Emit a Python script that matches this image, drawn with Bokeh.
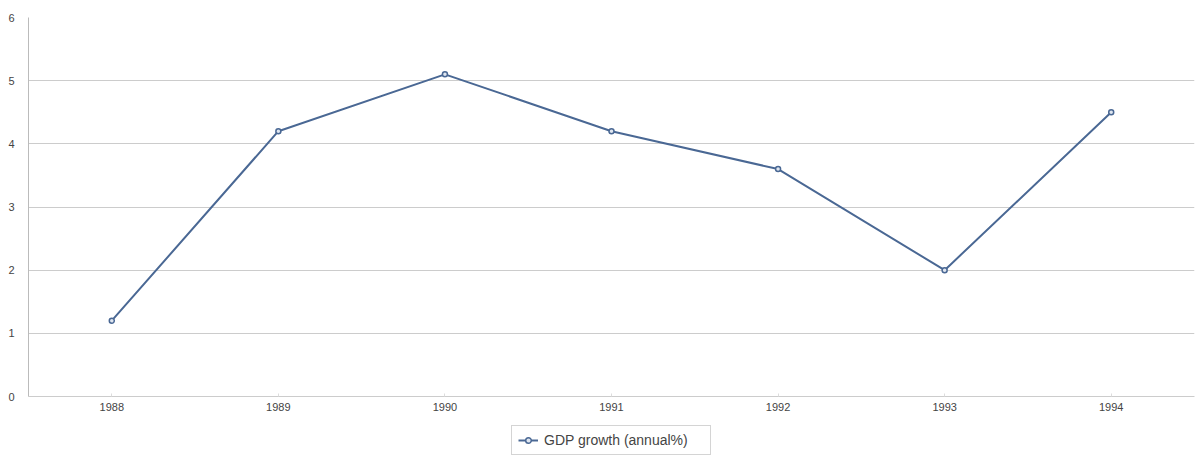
from bokeh.plotting import figure
from bokeh.layouts import column
from bokeh.models import FactorRange, Range1d, Legend, LegendItem, FixedTicker
from bokeh.embed import file_html
from bokeh.resources import INLINE

years = ["1988", "1989", "1990", "1991", "1992", "1993", "1994"]
gdp_growth = [1.2, 4.2, 5.1, 4.2, 3.6, 2.0, 4.5]
y_ticks = [0, 1, 2, 3, 4, 5, 6]
series_name = "GDP growth (annual%)"

line_color = "#4a6894"
marker_fill = "#dfe6f0"

p = figure(width=1196, height=423, x_range=FactorRange(*years, range_padding=0),
           y_range=Range1d(0, 6), output_backend="svg", toolbar_location=None,
           min_border_left=28, min_border_right=2, min_border_top=17, min_border_bottom=27)
p.outline_line_color = None
p.background_fill_color = "white"

r_line = p.line(years, gdp_growth, line_color=line_color, line_width=2)
r_pts = p.scatter(years, gdp_growth, size=5, line_color=line_color, fill_color=marker_fill, line_width=1.5)

p.xgrid.grid_line_color = None
p.ygrid.grid_line_color = "#cccccc"
p.ygrid.grid_line_width = 1

p.yaxis.ticker = FixedTicker(ticks=y_ticks)
p.yaxis.axis_line_color = "#bbbbbb"
p.yaxis.major_tick_line_color = None
p.yaxis.minor_tick_line_color = None
p.yaxis.major_label_text_font = "Liberation Sans"
p.yaxis.major_label_text_font_size = "11px"
p.yaxis.major_label_text_color = "#444444"
p.yaxis.major_label_standoff = 8

p.xaxis.axis_line_color = "#cccccc"
p.xaxis.major_tick_line_color = "#dddddd"
p.xaxis.major_tick_in = 3
p.xaxis.major_tick_out = 0
p.xaxis.major_label_text_font = "Liberation Sans"
p.xaxis.major_label_text_font_size = "11px"
p.xaxis.major_label_text_color = "#444444"
p.xaxis.major_label_standoff = 6

# legend strip below the chart (sample glyphs lie outside its visible range)
lg = figure(width=1196, height=33, x_range=Range1d(0, 1), y_range=Range1d(0, 1),
            output_backend="svg", toolbar_location=None,
            min_border_left=0, min_border_right=0, min_border_top=0, min_border_bottom=0)
lg.axis.visible = False
lg.grid.visible = False
lg.outline_line_color = None
l_line = lg.line(x=[5, 6], y=[5, 6], line_color=line_color, line_width=2)
l_pts = lg.scatter(x=[5], y=[5], size=5, line_color=line_color, fill_color=marker_fill, line_width=1.5)

legend = Legend(items=[LegendItem(label=series_name, renderers=[l_line, l_pts])],
                orientation="horizontal", location="center",
                label_text_font="Liberation Sans", label_text_font_size="14px",
                label_text_color="#444444", border_line_color="#aaaaaa",
                border_line_width=1, glyph_width=20, glyph_height=14,
                padding=6, spacing=0, margin=0, label_standoff=6,
                label_height=16, label_width=160)
lg.add_layout(legend, "center")

layout = column(p, lg, spacing=0)
open("out.html", "w").write(file_html(layout, INLINE))
